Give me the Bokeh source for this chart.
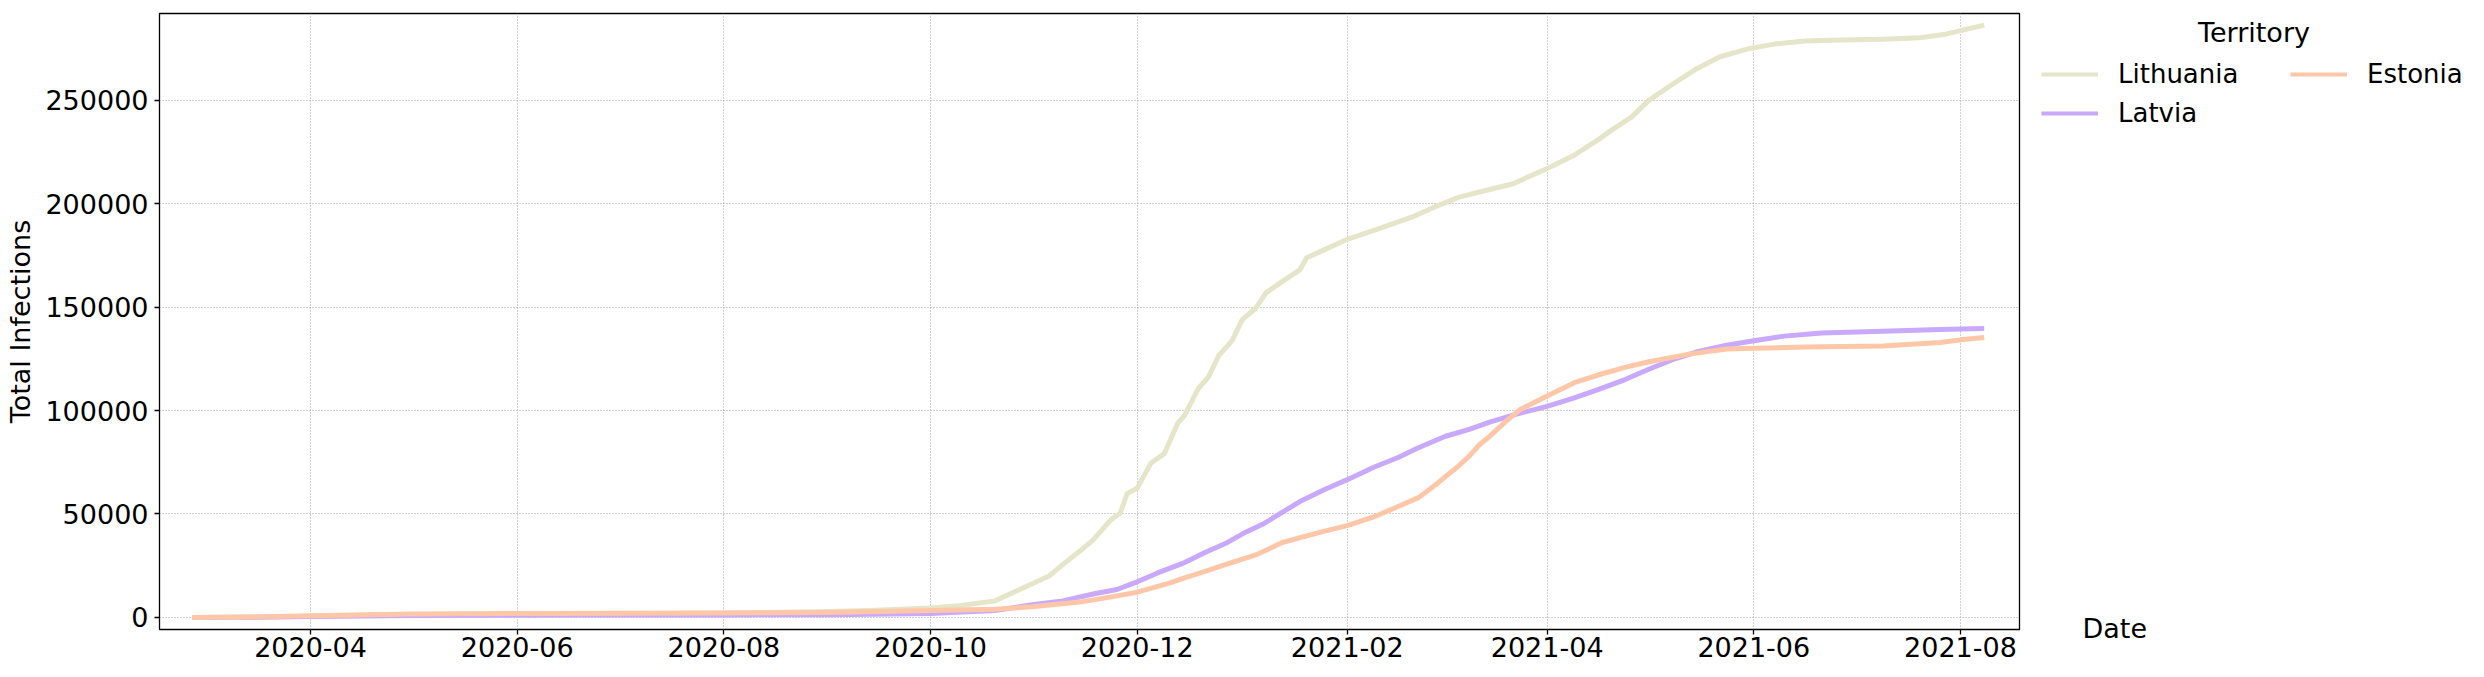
import pandas as pd
from bokeh.plotting import figure
from bokeh.layouts import row
from bokeh.models import (Range1d, FixedTicker, DatetimeTickFormatter, NumeralTickFormatter,
                          Legend, LegendItem, Label, Title)
from bokeh.embed import file_html
from bokeh.resources import INLINE

# ---------------- data ----------------
lithuania_dates = ["2020-02-26", "2020-03-15", "2020-04-01", "2020-04-15", "2020-05-01", "2020-06-01",
                   "2020-07-01", "2020-08-01", "2020-09-01", "2020-09-15", "2020-10-01", "2020-10-10",
                   "2020-10-20", "2020-10-31", "2020-11-05", "2020-11-09", "2020-11-14", "2020-11-18",
                   "2020-11-23", "2020-11-26", "2020-11-28", "2020-12-01", "2020-12-05", "2020-12-09",
                   "2020-12-13", "2020-12-15", "2020-12-19", "2020-12-22", "2020-12-25", "2020-12-29",
                   "2021-01-01", "2021-01-05", "2021-01-08", "2021-01-12", "2021-01-18", "2021-01-20",
                   "2021-01-25", "2021-02-01", "2021-02-11", "2021-02-20", "2021-02-27", "2021-03-06",
                   "2021-03-15", "2021-03-22", "2021-04-01", "2021-04-09", "2021-04-16", "2021-04-20",
                   "2021-04-26", "2021-05-01", "2021-05-08", "2021-05-15", "2021-05-22", "2021-05-30",
                   "2021-06-07", "2021-06-16", "2021-06-27", "2021-07-09", "2021-07-20", "2021-07-27",
                   "2021-08-01", "2021-08-08"]
lithuania_values = [0, 30, 540, 1100, 1400, 1680,
                    1820, 2080, 2820, 3500, 4600, 5800,
                    8000, 16300, 20000, 25500, 32000, 37500,
                    46800, 50500, 59800, 62500, 74500, 79200,
                    94000, 97700, 110600, 116200, 126400, 133800,
                    144000, 149500, 156900, 161500, 168000, 173900,
                    177600, 182800, 188300, 193500, 198600, 203200,
                    206900, 209700, 217100, 223500, 230900, 235600,
                    242000, 250000, 257800, 265200, 271100, 274800,
                    277200, 278700, 279200, 279600, 280300, 281800,
                    283700, 286400]

latvia_dates = ["2020-02-26", "2020-03-15", "2020-04-01", "2020-05-01", "2020-06-01", "2020-07-01",
                "2020-08-01", "2020-09-01", "2020-10-01", "2020-10-20", "2020-10-31", "2020-11-09",
                "2020-11-18", "2020-11-25", "2020-12-01", "2020-12-07", "2020-12-15", "2020-12-21",
                "2020-12-27", "2021-01-02", "2021-01-07", "2021-01-13", "2021-01-18", "2021-01-25",
                "2021-02-01", "2021-02-09", "2021-02-16", "2021-02-22", "2021-03-02", "2021-03-09",
                "2021-03-15", "2021-03-23", "2021-04-01", "2021-04-09", "2021-04-16", "2021-04-24",
                "2021-05-01", "2021-05-08", "2021-05-15", "2021-05-24", "2021-06-01", "2021-06-10",
                "2021-06-21", "2021-07-09", "2021-07-26", "2021-08-08"]
latvia_values = [0, 100, 400, 860, 1080, 1120,
                 1220, 1340, 1850, 3300, 6100, 8000,
                 11300, 13500, 17200, 21500, 26500, 31400,
                 35700, 41200, 45000, 51000, 56000, 61600,
                 66600, 72700, 77300, 82000, 87600, 90900,
                 94400, 98300, 102000, 106100, 110100, 115000,
                 120000, 124600, 128300, 131600, 133800, 136000,
                 137500, 138400, 139200, 139700]

estonia_dates = ["2020-02-26", "2020-03-15", "2020-04-01", "2020-05-01", "2020-06-01", "2020-07-01",
                 "2020-08-01", "2020-09-01", "2020-10-01", "2020-10-20", "2020-10-31", "2020-11-14",
                 "2020-11-23", "2020-12-01", "2020-12-10", "2020-12-15", "2020-12-21", "2020-12-27",
                 "2021-01-05", "2021-01-13", "2021-01-18", "2021-01-25", "2021-02-01", "2021-02-09",
                 "2021-02-16", "2021-02-22", "2021-02-27", "2021-03-02", "2021-03-05", "2021-03-09",
                 "2021-03-12", "2021-03-15", "2021-03-20", "2021-03-24", "2021-04-01", "2021-04-09",
                 "2021-04-16", "2021-04-24", "2021-05-01", "2021-05-13", "2021-05-24", "2021-06-01",
                 "2021-06-16", "2021-07-09", "2021-07-26", "2021-08-01", "2021-08-08"]
estonia_values = [0, 170, 780, 1700, 1870, 1990,
                  2070, 2420, 3300, 3900, 5200, 7400,
                  9800, 12200, 16300, 19100, 22200, 25500,
                  30200, 36300, 38500, 41600, 44400, 48700,
                  53600, 57900, 64000, 68100, 72000, 78000,
                  83500, 87500, 95000, 100500, 107000, 113500,
                  117200, 120900, 123600, 127300, 129750, 130100,
                  130700, 131200, 132900, 134200, 135300]

territories = ["Lithuania", "Latvia", "Estonia"]
colors = ["#e5e5c9", "#c8a9fd", "#ffc7a8"]

x_tick_labels = ["2020-04", "2020-06", "2020-08", "2020-10", "2020-12",
                 "2021-02", "2021-04", "2021-06", "2021-08"]
y_ticks = [0, 50000, 100000, 150000, 200000, 250000]

x_start, x_end = "2020-02-16 10:00", "2021-08-18 10:00"
y_start, y_end = -5850, 292000

FONT = "DejaVu Sans"
H = 669
BT, BB = 13, 40   # top / bottom borders shared by both panels

# ---------------- main figure ----------------
p = figure(width=2021, height=H, x_axis_type="datetime",
           x_range=Range1d(pd.Timestamp(x_start), pd.Timestamp(x_end)),
           y_range=Range1d(y_start, y_end),
           output_backend="svg", toolbar_location=None,
           min_border_left=159, min_border_right=2, min_border_top=BT, min_border_bottom=BB)
p.background_fill_color = "white"
p.border_fill_color = "white"
p.outline_line_color = "black"
p.outline_line_width = 1.3

series = [(lithuania_dates, lithuania_values), (latvia_dates, latvia_values), (estonia_dates, estonia_values)]
for (d, v), c in zip(series, colors):
    p.line(x=pd.to_datetime(d), y=v, line_color=c, line_width=5, line_join="round")

p.xaxis.ticker = FixedTicker(ticks=[pd.Timestamp(t + "-01").value / 1e6 for t in x_tick_labels])
fmt = "%Y-%m"
p.xaxis.formatter = DatetimeTickFormatter(days=fmt, months=fmt, years=fmt, hours=fmt,
                                          minutes=fmt, seconds=fmt, milliseconds=fmt)
p.yaxis.ticker = FixedTicker(ticks=y_ticks)
p.yaxis.formatter = NumeralTickFormatter(format="0")

for ax in (p.xaxis[0], p.yaxis[0]):
    ax.axis_line_color = None
    ax.major_tick_out = 5
    ax.major_tick_in = 0
    ax.minor_tick_line_color = None
    ax.major_tick_line_color = "black"
    ax.major_tick_line_width = 1.3
    ax.major_label_text_font = FONT
    ax.major_label_text_font_size = "27px"
    ax.major_label_text_color = "black"

p.xaxis.major_label_standoff = 2
p.yaxis.major_label_standoff = 6
p.yaxis.axis_label = "Total Infections"
p.yaxis.axis_label_text_font = FONT
p.yaxis.axis_label_text_font_size = "27px"
p.yaxis.axis_label_text_font_style = "normal"
p.yaxis.axis_label_text_color = "black"
p.yaxis.axis_label_standoff = 6

p.grid.grid_line_color = "#a0a0a0"
p.grid.grid_line_width = 1
p.grid.grid_line_dash = "1 2"

# ---------------- side panel: legend and x-axis title ----------------
W2 = 463
s = figure(width=W2, height=H, x_range=Range1d(0, 1), y_range=Range1d(0, 1),
           x_axis_location=None, y_axis_location=None, output_backend="svg",
           toolbar_location=None, min_border_left=0, min_border_right=0,
           min_border_top=BT, min_border_bottom=BB)
s.outline_line_color = None
s.background_fill_color = "white"
s.border_fill_color = "white"
s.grid.visible = False

nan = float("nan")
keys = [s.line(x=[nan], y=[nan], line_color=c, line_width=4) for c in colors]

leg_kw = dict(border_line_color=None, background_fill_alpha=0, padding=0, margin=0, spacing=9,
              glyph_width=57, glyph_height=30, label_standoff=20,
              label_text_font=FONT, label_text_font_size="26px", label_text_color="black")
leg1 = Legend(items=[LegendItem(label=territories[0], renderers=[keys[0]]),
                     LegendItem(label=territories[1], renderers=[keys[1]])],
              location=(20, 501.3), **leg_kw)
leg2 = Legend(items=[LegendItem(label=territories[2], renderers=[keys[2]])],
              location=(269, 540.3), **leg_kw)
s.add_layout(leg1)
s.add_layout(leg2)

s.add_layout(Label(x=232.5, y=597.5, x_units="screen", y_units="screen", text="Territory",
                   text_align="center", text_baseline="alphabetic",
                   text_font=FONT, text_font_size="27px", text_color="black"))
s.add_layout(Title(text="Date", align="left", offset=61, vertical_align="top", standoff=-33,
                   text_font=FONT, text_font_size="27px", text_font_style="normal",
                   text_color="black"), "below")

layout = row(p, s, spacing=0)
open("out.html", "w").write(file_html(layout, INLINE))
